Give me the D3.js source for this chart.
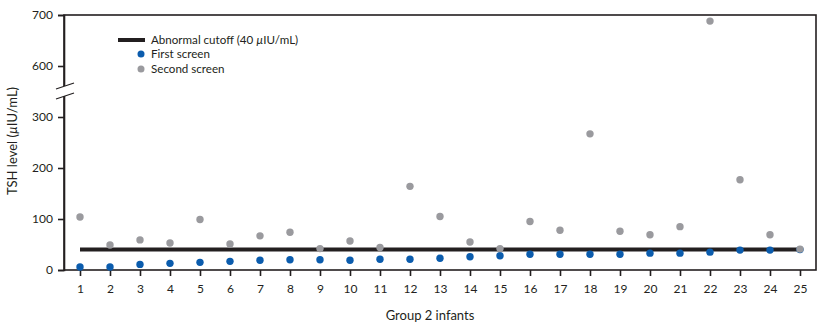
<!DOCTYPE html>
<html>
<head>
<meta charset="utf-8">
<script src="https://cdn.jsdelivr.net/npm/d3@7"></script>
<style>
  body { margin: 0; background: #fff; }
  svg text { font-family: Lato, "Noto Sans", sans-serif; fill: #231f20; }
</style>
</head>
<body>
<div id="chart"></div>
<script>
// Group 2 infants, TSH level (µIU/mL)
const infants = d3.range(1, 26);
const firstScreen = [6, 6, 11, 13, 15, 17, 19, 20, 20, 19, 21, 21, 23, 26, 28, 31, 31, 31, 31, 33, 33, 35, 39, 39, 40];
const secondScreen = [104, 49, 59, 53, 99, 51, 67, 74, 42, 57, 44, 164, 105, 55, 42, 95, 78, 267, 76, 69, 85, 688, 177, 69, 41];
const cutoff = 40;
const yTicks = [0, 100, 200, 300, 600, 700];

const W = 824, H = 333;
const plotL = 64, plotR = 816, plotT = 15, plotB = 270;
const ink = "#231f20";

const svg = d3.select("#chart").append("svg")
  .attr("width", W)
  .attr("height", H);

// x: one slot per infant
const x = d3.scaleLinear().domain([1, 25]).range([80, 800]);

// y with broken axis: 300..600 squeezed into the gap
const y = d3.scaleLinear()
  .domain([0, 300, 600, 700])
  .range([plotB, 117, 66, plotT]);

// frame
svg.append("rect")
  .attr("x", plotL).attr("y", plotT)
  .attr("width", plotR - plotL).attr("height", plotB - plotT)
  .attr("fill", "none")
  .attr("stroke", ink)
  .attr("stroke-width", 1.6);

// y axis
const yAxis = svg.append("g")
  .attr("transform", `translate(${plotL},0)`)
  .call(d3.axisLeft(y).tickValues(yTicks).tickSize(6).tickPadding(5));
yAxis.select(".domain").attr("stroke", ink).attr("stroke-width", 1.6);
yAxis.selectAll(".tick line").attr("stroke", ink).attr("stroke-width", 1.6);
yAxis.selectAll(".tick text").attr("font-size", 12).attr("fill", ink);

// axis break
svg.append("rect")
  .attr("x", plotL - 3).attr("y", 86).attr("width", 6).attr("height", 10)
  .attr("fill", "#fff");
[86, 96].forEach(yy => {
  svg.append("line")
    .attr("x1", plotL - 8).attr("y1", yy + 3)
    .attr("x2", plotL + 10).attr("y2", yy - 3)
    .attr("stroke", ink)
    .attr("stroke-width", 1.3);
});

// x axis
const xAxis = svg.append("g")
  .attr("transform", `translate(0,${plotB})`)
  .call(d3.axisBottom(x).tickValues(infants).tickFormat(d3.format("d")).tickSize(6).tickPadding(8));
xAxis.select(".domain").remove();
xAxis.selectAll(".tick line").attr("stroke", ink).attr("stroke-width", 1.6);
xAxis.selectAll(".tick text").attr("font-size", 12).attr("fill", ink);

// text with italic µ
function unitText(sel, before, after) {
  sel.append("tspan").text(before);
  sel.append("tspan").attr("font-style", "italic").text("µ");
  sel.append("tspan").text(after);
}

// axis titles
svg.append("text")
  .attr("x", 430).attr("y", 320)
  .attr("text-anchor", "middle")
  .attr("font-size", 13)
  .text("Group 2 infants");

svg.append("text")
  .attr("transform", `translate(17,141) rotate(-90)`)
  .attr("text-anchor", "middle")
  .attr("font-size", 13)
  .call(unitText, "TSH level (", "IU/mL)");

// cutoff line
svg.append("line")
  .attr("x1", x(1)).attr("x2", x(25))
  .attr("y1", y(cutoff)).attr("y2", y(cutoff))
  .attr("stroke", ink)
  .attr("stroke-width", 4);

// points
svg.selectAll(".first")
  .data(firstScreen)
  .enter()
  .append("circle")
  .attr("class", "first")
  .attr("cx", (d, i) => x(infants[i]))
  .attr("cy", d => y(d))
  .attr("r", 3.7)
  .attr("fill", "#0b5cad");

svg.selectAll(".second")
  .data(secondScreen)
  .enter()
  .append("circle")
  .attr("class", "second")
  .attr("cx", (d, i) => x(infants[i]))
  .attr("cy", d => y(d))
  .attr("r", 3.7)
  .attr("fill", "#9a9a9e");

// legend
const lg = svg.append("g");
lg.append("line")
  .attr("x1", 118).attr("x2", 145)
  .attr("y1", 40).attr("y2", 40)
  .attr("stroke", ink).attr("stroke-width", 4);
lg.append("text").attr("x", 151).attr("y", 44).attr("font-size", 11.6)
  .call(unitText, "Abnormal cutoff (40 ", "IU/mL)");
lg.append("circle").attr("cx", 141).attr("cy", 54).attr("r", 3.5).attr("fill", "#0b5cad");
lg.append("text").attr("x", 151).attr("y", 58).attr("font-size", 11.6).text("First screen");
lg.append("circle").attr("cx", 141).attr("cy", 69).attr("r", 3.5).attr("fill", "#9a9a9e");
lg.append("text").attr("x", 151).attr("y", 73).attr("font-size", 11.6).text("Second screen");
</script>
</body>
</html>
